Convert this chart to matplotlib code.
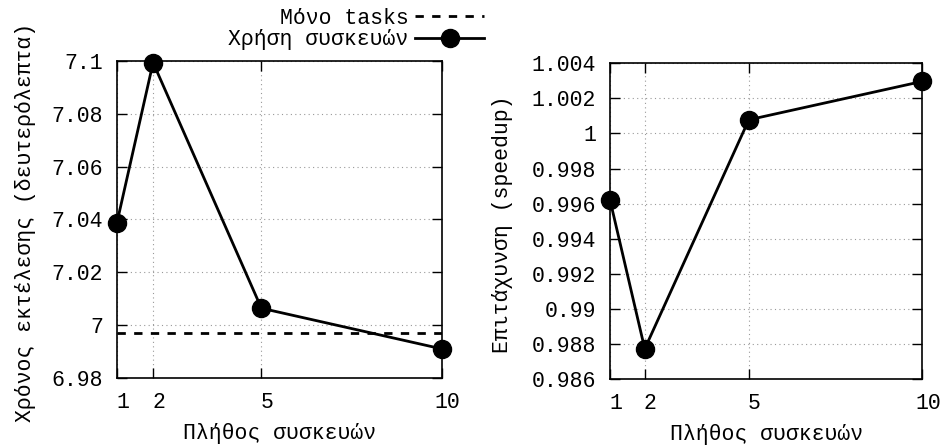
import matplotlib
matplotlib.use("Agg")
import matplotlib.pyplot as plt
import matplotlib.transforms as mtransforms
from matplotlib.ticker import FixedLocator

plt.rcParams['font.family'] = ['Liberation Mono', 'DejaVu Sans Mono']
plt.rcParams['font.size'] = 15.5

# data
devices = [1, 2, 5, 10]
time_devices = [7.0388, 7.0994, 7.0064, 6.9910]
time_tasks_only = 6.9972
speedup = [0.9962, 0.98772, 1.00078, 1.00297]

time_ticks = [6.98, 7.0, 7.02, 7.04, 7.06, 7.08, 7.1]
time_labels = ['6.98', '7', '7.02', '7.04', '7.06', '7.08', '7.1']
speedup_ticks = [0.986, 0.988, 0.99, 0.992, 0.994, 0.996, 0.998, 1.0, 1.002, 1.004]
speedup_labels = ['0.986', '0.988', '0.99', '0.992', '0.994', '0.996',
                  '0.998', '1', '1.002', '1.004']

xlabel = 'Πλήθος συσκευών'
ylabel_time = 'Χρόνος εκτέλεσης (δευτερόλεπτα)'
ylabel_speedup = 'Επιτάχυνση (speedup)'
label_tasks = 'Μόνο tasks'
label_devices = 'Χρήση συσκευών'


def styleAxes(ax, fig):
    """
    gnuplot-like look: ticks inside on all sides, dotted grid
    """
    ax.set_xlim(1, 10)
    ax.xaxis.set_major_locator(FixedLocator(devices))
    ax.set_xticklabels([str(d) for d in devices])
    ax.tick_params(direction='in', length=7, width=1, top=True, right=True, pad=10)
    ax.grid(True, linestyle=(0, (1, 3)), color='#999999', linewidth=0.8)
    for s in ax.spines.values():
        s.set_linewidth(1.2)
    # gnuplot puts the x tick labels a bit to the right
    offset = mtransforms.ScaledTranslation(4 / 72, 0, fig.dpi_scale_trans)
    for lab in ax.get_xticklabels():
        lab.set_transform(lab.get_transform() + offset)


fig = plt.figure(figsize=(9.41, 4.45), dpi=100)
ax1 = fig.add_axes([0.1243, 0.1506, 0.3454, 0.7123])
ax2 = fig.add_axes([0.6483, 0.1483, 0.3318, 0.7094])

# left: execution time
tasksLine, = ax1.plot([1, 10], [time_tasks_only, time_tasks_only], color='black',
                      linewidth=2, linestyle=(0, (3, 3)), label=label_tasks)
devLine, = ax1.plot(devices, time_devices, color='black', linewidth=2, marker='o',
                    markersize=13, label=label_devices, clip_on=False, zorder=5)
ax1.set_ylim(6.98, 7.1)
ax1.set_yticks(time_ticks)
ax1.set_yticklabels(time_labels)
ax1.set_xlabel(xlabel, labelpad=7)
ax1.set_ylabel(ylabel_time)
ax1.yaxis.set_label_coords(-0.25, 0.49)
styleAxes(ax1, fig)

# right: speedup
ax2.plot(devices, speedup, color='black', linewidth=2, marker='o',
         markersize=13, clip_on=False, zorder=5)
ax2.set_ylim(0.986, 1.004)
ax2.set_yticks(speedup_ticks)
ax2.set_yticklabels(speedup_labels)
ax2.set_xlabel(xlabel, labelpad=7)
ax2.set_ylabel(ylabel_speedup)
ax2.yaxis.set_label_coords(-0.31, 0.49)
styleAxes(ax2, fig)

fig.legend(handles=[tasksLine, devLine], loc='upper right',
           bbox_to_anchor=(484 / 941, 1 - 8 / 445), frameon=False,
           markerfirst=False, handlelength=3.2, handletextpad=0.3,
           labelspacing=0.02, borderaxespad=0, borderpad=0)

fig.savefig('out.png', dpi=100)
